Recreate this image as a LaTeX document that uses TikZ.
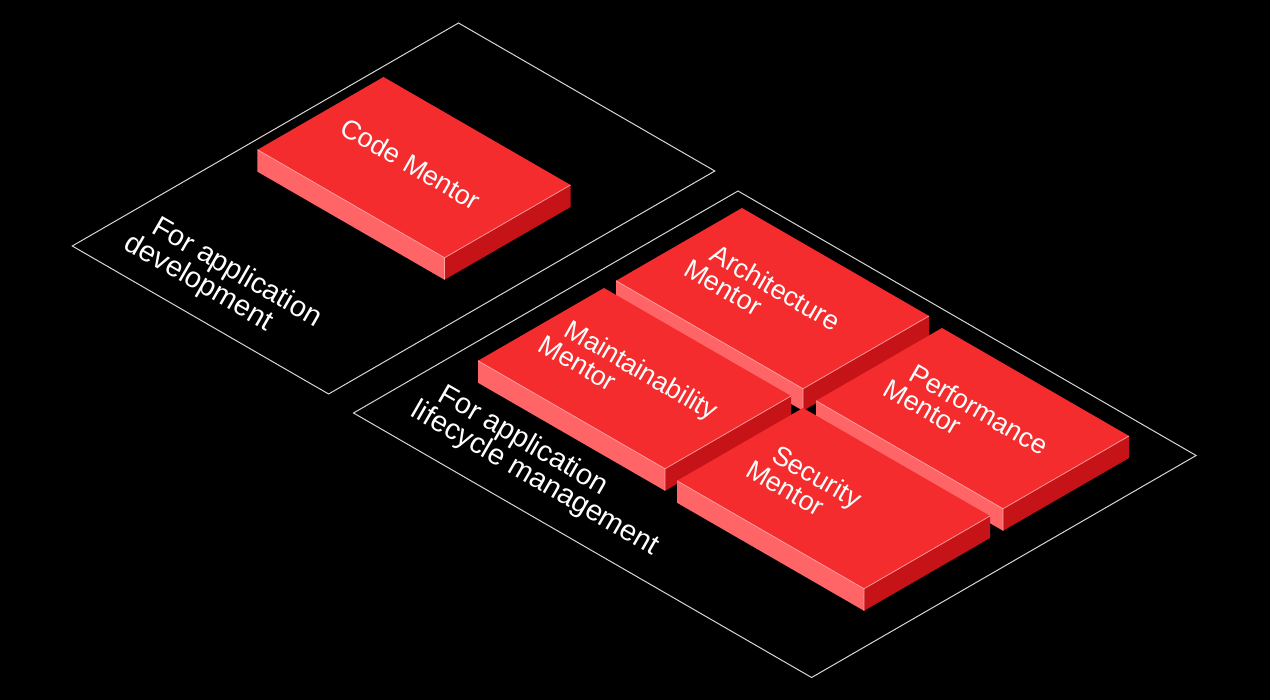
\documentclass[tikz,border=0pt]{standalone}
\usepackage{fontspec}
\setmainfont{Liberation Sans}
\definecolor{topred}{HTML}{F42C2E}
\definecolor{sidelight}{HTML}{FF6467}
\definecolor{sidedark}{HTML}{C51317}
\definecolor{edgepink}{HTML}{FFA5A5}
\definecolor{framegray}{HTML}{D6D6D6}
\tikzset{
  iso/.style={x={(0.866pt,-0.5pt)},y={(-0.866pt,-0.5pt)},z={(0pt,-1pt)}},
  rottext/.style={rotate=-30,anchor=base west,inner sep=0pt,text=white},
  blockfont/.style={font=\fontsize{27}{27}\selectfont},
  labelfont/.style={font=\fontsize{29}{30}\selectfont},
  frameline/.style={draw=framegray,line width=1pt},
  edgeline/.style={draw=edgepink,line width=0.7pt,line join=round},
  mentorblock/.pic={
    \fill[topred] (0,0,0)--(216,0,0)--(216,145.5,0)--(0,145.5,0)--cycle;
    \fill[sidelight] (0,145.5,0)--(216,145.5,0)--(216,145.5,22)--(0,145.5,22)--cycle;
    \fill[sidedark] (216,0,0)--(216,145.5,0)--(216,145.5,22)--(216,0,22)--cycle;
    \draw[edgeline] (0,145.5,0)--(216,145.5,0)--(216,0,0) (216,145.5,0)--(216,145.5,22);
  },
}
\begin{document}
\begin{tikzpicture}[x=1pt,y=-1pt]
  \fill[black] (0,0) rectangle (1270,700);
  \useasboundingbox (0,0) rectangle (1270,700);
  % frame: application development
  \begin{scope}[shift={(458.5,23)},iso]
    \draw[frameline] (0,0)--(296,0)--(296,446)--(0,446)--cycle;
    \node[rottext,labelfont] (dev1) at (31,387) {For application};
    \node[rottext,labelfont] (dev2) at (31,419) {development};
  \end{scope}
  % frame: application lifecycle management
  \begin{scope}[shift={(738,191)},iso]
    \draw[frameline] (0,0)--(529,0)--(529,444)--(0,444)--cycle;
    \node[rottext,labelfont] (alm1) at (35,383) {For application};
    \node[rottext,labelfont] (alm2) at (35,414) {lifecycle management};
  \end{scope}
  % Code Mentor
  \begin{scope}[shift={(383.5,77)},iso]
    \pic {mentorblock};
    \node[rottext,blockfont] (code1) at (30,82) {Code Mentor};
  \end{scope}
  % Architecture Mentor
  \begin{scope}[shift={(742,208)},iso]
    \pic {mentorblock};
    \node[rottext,blockfont] (arch1) at (32,71) {Architecture};
    \node[rottext,blockfont] (arch2) at (32,101) {Mentor};
  \end{scope}
  % Maintainability Mentor
  \begin{scope}[shift={(604,288)},iso]
    \pic {mentorblock};
    \node[rottext,blockfont] (maint1) at (23,71) {Maintainability};
    \node[rottext,blockfont] (maint2) at (23,101) {Mentor};
  \end{scope}
  % Performance Mentor
  \begin{scope}[shift={(942,328)},iso]
    \pic {mentorblock};
    \node[rottext,blockfont] (perf1) at (31,71) {Performance};
    \node[rottext,blockfont] (perf2) at (31,101) {Mentor};
  \end{scope}
  % Security Mentor
  \begin{scope}[shift={(803,408)},iso]
    \pic {mentorblock};
    \node[rottext,blockfont] (sec1) at (33,71) {Security};
    \node[rottext,blockfont] (sec2) at (33,101) {Mentor};
  \end{scope}
\end{tikzpicture}
\end{document}
